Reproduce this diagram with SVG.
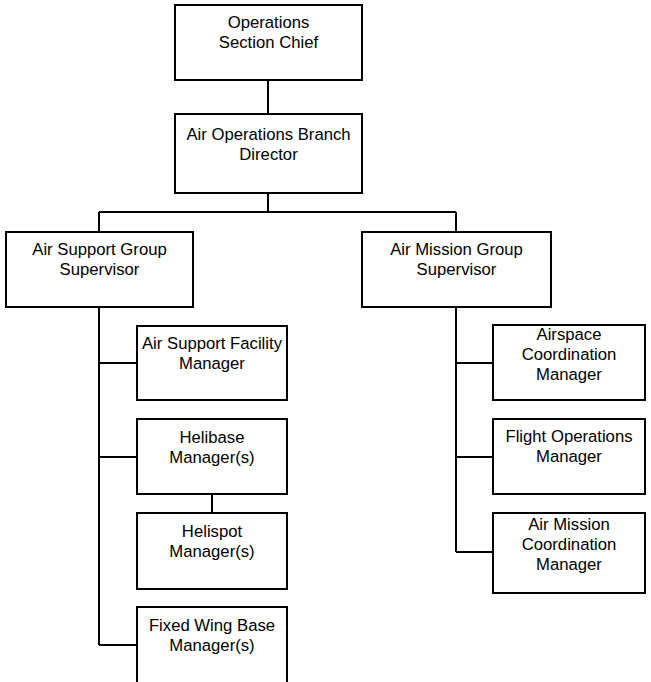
<svg xmlns="http://www.w3.org/2000/svg" width="651" height="682" viewBox="0 0 651 682">
<style>
.box{fill:#fff;stroke:#000;stroke-width:2}
.ln{fill:none;stroke:#000;stroke-width:2}
text{font-family:"Liberation Sans",Arial,sans-serif;font-size:16.7px;fill:#000;text-anchor:middle}
</style>
<rect width="651" height="682" fill="#fff"/>
<g id="connectors">
<path class="ln" d="M268,80V114M268,193V212M99,212H456M99,212V232M456,212V232"/>
<path class="ln" d="M99,307V645M99,363H137M99,457H137M99,645H137M212,494V513"/>
<path class="ln" d="M456,307V552M456,363H493M456,457H493M456,552H493"/>
</g>
<g id="ops-chief"><rect class="box" x="175" y="5" width="187" height="75"/><text x="268.5" y="28">Operations</text><text x="268.5" y="48">Section Chief</text></g>
<g id="air-ops-director"><rect class="box" x="175" y="114" width="187" height="79"/><text x="268.5" y="140">Air Operations Branch</text><text x="268.5" y="160">Director</text></g>
<g id="air-support-group"><rect class="box" x="6" y="232" width="187" height="75"/><text x="99.5" y="255">Air Support Group</text><text x="99.5" y="275">Supervisor</text></g>
<g id="air-mission-group"><rect class="box" x="362" y="232" width="189" height="75"/><text x="456.5" y="255">Air Mission Group</text><text x="456.5" y="275">Supervisor</text></g>
<g id="air-support-facility"><rect class="box" x="137" y="326" width="150" height="74"/><text x="212" y="349">Air Support Facility</text><text x="212" y="369">Manager</text></g>
<g id="helibase"><rect class="box" x="137" y="419" width="150" height="75"/><text x="212" y="443">Helibase</text><text x="212" y="463">Manager(s)</text></g>
<g id="helispot"><rect class="box" x="137" y="513" width="150" height="76"/><text x="212" y="537">Helispot</text><text x="212" y="557">Manager(s)</text></g>
<g id="fixed-wing"><rect class="box" x="137" y="607" width="150" height="80"/><text x="212" y="631">Fixed Wing Base</text><text x="212" y="651">Manager(s)</text></g>
<g id="airspace"><rect class="box" x="493" y="325" width="152" height="75"/><text x="569" y="340">Airspace</text><text x="569" y="360">Coordination</text><text x="569" y="380">Manager</text></g>
<g id="flight-ops"><rect class="box" x="493" y="419" width="152" height="75"/><text x="569" y="442">Flight Operations</text><text x="569" y="462">Manager</text></g>
<g id="air-mission-coord"><rect class="box" x="493" y="513" width="152" height="80"/><text x="569" y="530">Air Mission</text><text x="569" y="550">Coordination</text><text x="569" y="570">Manager</text></g>
</svg>
